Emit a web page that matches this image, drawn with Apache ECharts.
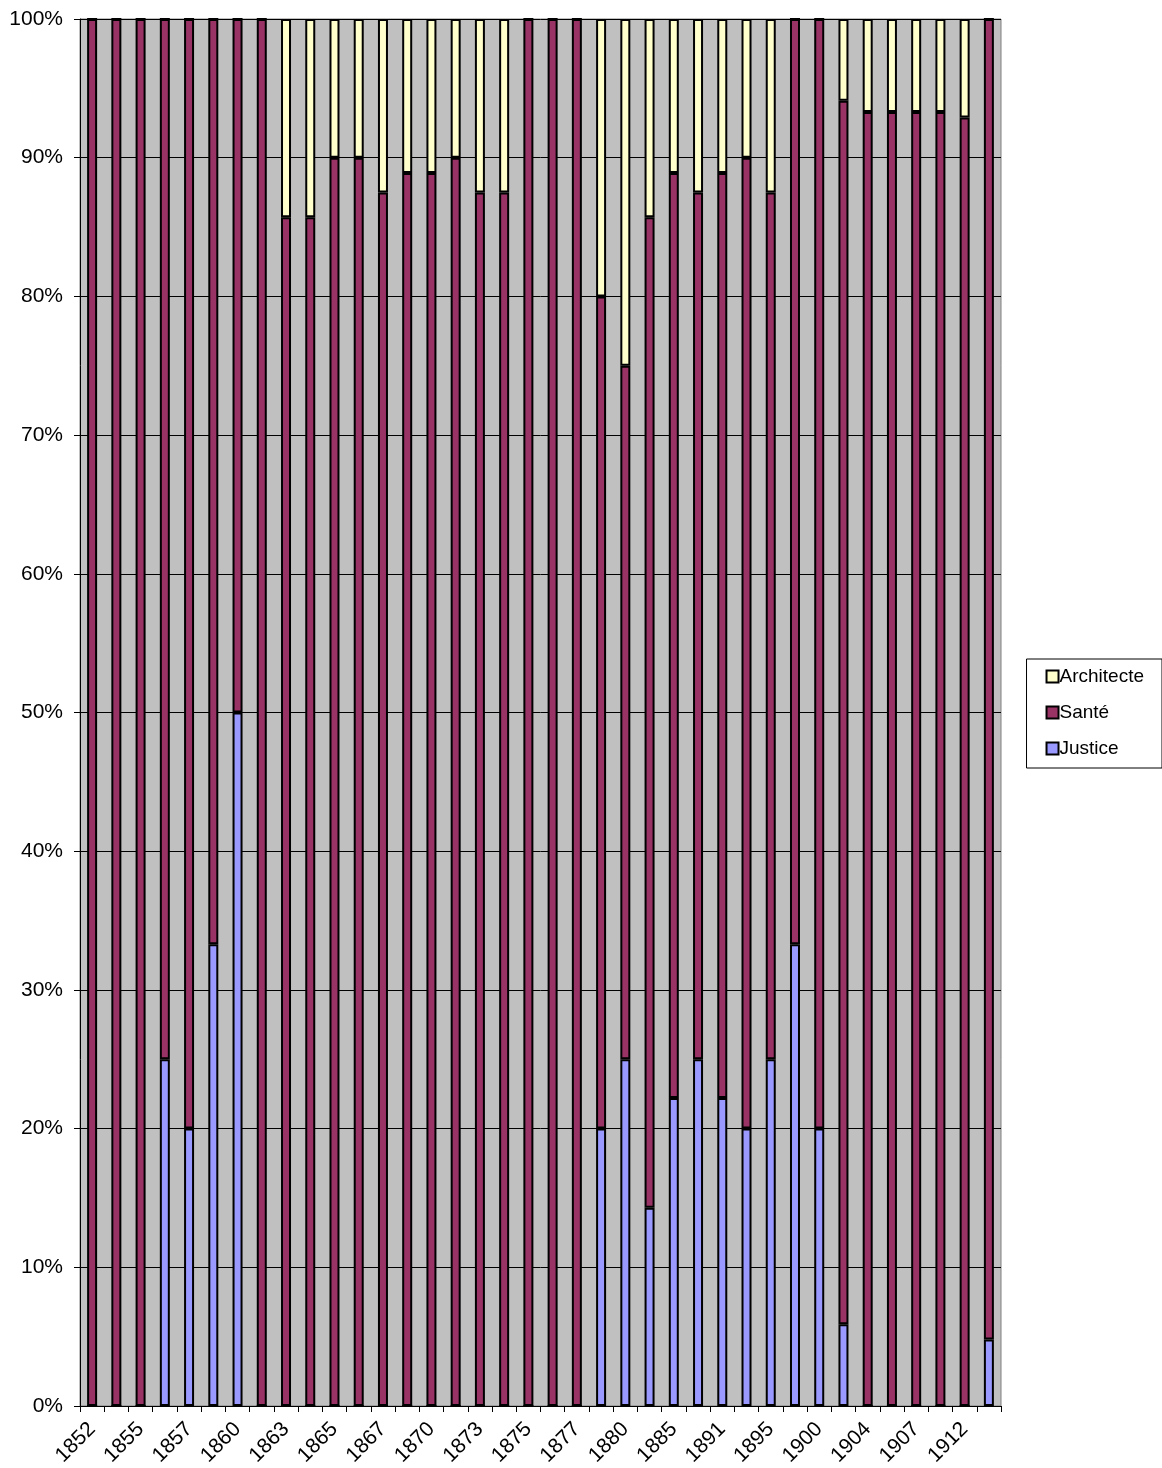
<!DOCTYPE html>
<html>
<head>
<meta charset="utf-8">
<script src="https://cdn.jsdelivr.net/npm/echarts@6/dist/echarts.min.js"></script>
<style>
html,body{margin:0;padding:0;background:#fff;}
#chart{width:1162px;height:1468px;}
</style>
</head>
<body>
<div id="chart"></div>
<script>
const categories = ['1852','1854','1855','1856','1857','1858','1860','1862','1863','1864','1865','1866','1867','1869','1870','1872','1873','1874','1875','1876','1877','1879','1880','1883','1885','1888','1891','1893','1895','1898','1900','1902','1904','1906','1907','1910','1912','1914'];
const justice = [0,0,0,25,20,33.3,50,0,0,0,0,0,0,0,0,0,0,0,0,0,0,20,25,14.3,22.2,25,22.2,20,25,33.3,20,5.9,0,0,0,0,0,4.8];
const sante = [100,100,100,75,80,66.7,50,100,85.7,85.7,90,90,87.5,88.9,88.9,90,87.5,87.5,100,100,100,60,50,71.4,66.7,62.5,66.7,70,62.5,66.7,80,88.2,93.3,93.3,93.3,93.3,92.9,95.2];
const architecte = [0,0,0,0,0,0,0,0,14.3,14.3,10,10,12.5,11.1,11.1,10,12.5,12.5,0,0,0,20,25,14.3,11.1,12.5,11.1,10,12.5,0,0,5.9,6.7,6.7,6.7,6.7,7.1,0];
const yTicks = [0,10,20,30,40,50,60,70,80,90,100];

const FONT = '"Liberation Sans", Arial, sans-serif';
const chart = echarts.init(document.getElementById('chart'));
const barBase = {type:'bar', stack:'total', barWidth:10, animation:false};
chart.setOption({
  backgroundColor:'#fff',
  grid:{left:80, right:161, top:19, bottom:62, outerBoundsMode:'none', containLabel:false, show:true, backgroundColor:'#c0c0c0', borderColor:'#808080', borderWidth:1},
  legend:{
    orient:'vertical', right:0, top:659,
    data:['Architecte','Santé','Justice'],
    itemWidth:12, itemHeight:12, itemGap:17,
    padding:[8,18,10,19],
    borderColor:'#000', borderWidth:1, backgroundColor:'#fff',
    textStyle:{fontFamily:FONT, fontSize:19, color:'#000', padding:[0,0,0,-4]},
    icon:'rect', align:'left'
  },
  xAxis:{
    type:'category', data:categories, boundaryGap:true,
    axisLine:{lineStyle:{color:'#000', width:1}},
    axisTick:{show:true, interval:0, alignWithLabel:false, length:6, lineStyle:{color:'#000'}},
    axisLabel:{interval:1, rotate:45, fontFamily:FONT, fontSize:21, color:'#000', margin:20},
    splitLine:{show:false}
  },
  yAxis:{
    type:'value', min:0, max:100, interval:10,
    axisLine:{show:true, lineStyle:{color:'#000'}},
    axisTick:{show:true, length:6, inside:false, lineStyle:{color:'#000'}},
    axisLabel:{formatter:v => yTicks.includes(v) ? v + '%' : '', fontFamily:FONT, fontSize:21, color:'#000', margin:17},
    splitLine:{show:true, lineStyle:{color:'#000', width:1}}
  },
  series:[
    Object.assign({}, barBase, {name:'Justice', data:justice, itemStyle:{color:'#9999ff', borderColor:'#000', borderWidth:2}}),
    Object.assign({}, barBase, {name:'Santé', data:sante, itemStyle:{color:'#993366', borderColor:'#000', borderWidth:2}}),
    Object.assign({}, barBase, {name:'Architecte', data:architecte, itemStyle:{color:'#ffffcc', borderColor:'#000', borderWidth:2}})
  ]
});
</script>
</body>
</html>
